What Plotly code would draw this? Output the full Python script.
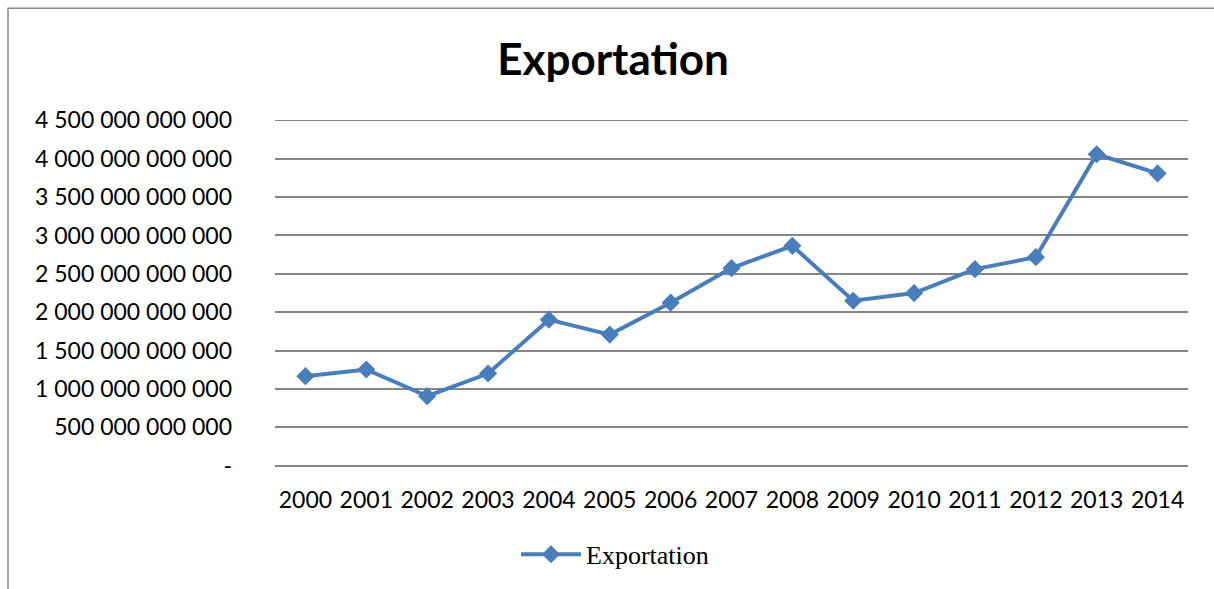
import plotly.graph_objects as go

years = ["2000", "2001", "2002", "2003", "2004", "2005", "2006", "2007",
         "2008", "2009", "2010", "2011", "2012", "2013", "2014"]
exportation = [1.166e12, 1.253e12, 0.906e12, 1.201e12, 1.903e12, 1.708e12,
               2.124e12, 2.574e12, 2.864e12, 2.149e12, 2.249e12, 2.561e12,
               2.717e12, 4.058e12, 3.808e12]
ytick_vals = [0, 0.5e12, 1e12, 1.5e12, 2e12, 2.5e12, 3e12, 3.5e12, 4e12, 4.5e12]
ytick_text = ["-", "500 000 000 000", "1 000 000 000 000", "1 500 000 000 000",
              "2 000 000 000 000", "2 500 000 000 000", "3 000 000 000 000",
              "3 500 000 000 000", "4 000 000 000 000", "4 500 000 000 000"]

W, H = 1214, 589
L, R, T, B = 275, 26, 120, 122.5
pw = W - L - R
ph = H - T - B

fig = go.Figure()
fig.add_trace(go.Scatter(
    x=years, y=exportation, mode="lines+markers", name="Exportation",
    line=dict(color="#4A7EBB", width=4),
    marker=dict(symbol="diamond", size=14, color="#4A7EBB"),
))

grid_color = "#868686"
fig.update_layout(
    width=W, height=H,
    margin=dict(l=L, r=R, t=T, b=B, autoexpand=False),
    paper_bgcolor="white", plot_bgcolor="white",
    title=dict(text="<b>Exportation</b>", x=(613) / W, xanchor="center",
               y=1 - 60 / H, yanchor="middle", yref="container",
               font=dict(family="Lato", size=44, color="black")),
    xaxis=dict(type="category", range=[-0.5, len(years) - 0.5],
               showgrid=False, showline=False, zeroline=False,
               ticks="", ticklabelstandoff=18,
               tickfont=dict(family="Lato", size=23, color="black")),
    yaxis=dict(range=[-0.004e12, 4.504e12], tickvals=ytick_vals, ticktext=ytick_text,
               showgrid=True, gridcolor=grid_color, gridwidth=1.5,
               zeroline=True, zerolinecolor=grid_color, zerolinewidth=1.5,
               showline=False, ticks="",
               ticklabelstandoff=42,
               tickfont=dict(family="Lato", size=23, color="black")),
    showlegend=True,
    legend=dict(orientation="h", x=0.5 + (615 - (L + pw / 2)) / pw, xanchor="center",
                y=(ph - (555 - T)) / ph, yanchor="middle",
                font=dict(family="Liberation Serif", size=26, color="black"),
                itemwidth=60),
    shapes=[
        dict(type="rect", xref="paper", yref="paper",
             x0=(8 - L) / pw, x1=(W + 20 - L) / pw,
             y0=(ph - (H + 20 - T)) / ph, y1=(ph - (8 - T)) / ph,
             line=dict(color="#8A8A8A", width=1.5), fillcolor="rgba(0,0,0,0)",
             layer="below"),
        dict(type="line", xref="paper", yref="y", x0=0, x1=1,
             y0=ytick_vals[-1], y1=ytick_vals[-1],
             line=dict(color=grid_color, width=1.5), layer="below"),
    ],
)

fig.write_html("out.html")
